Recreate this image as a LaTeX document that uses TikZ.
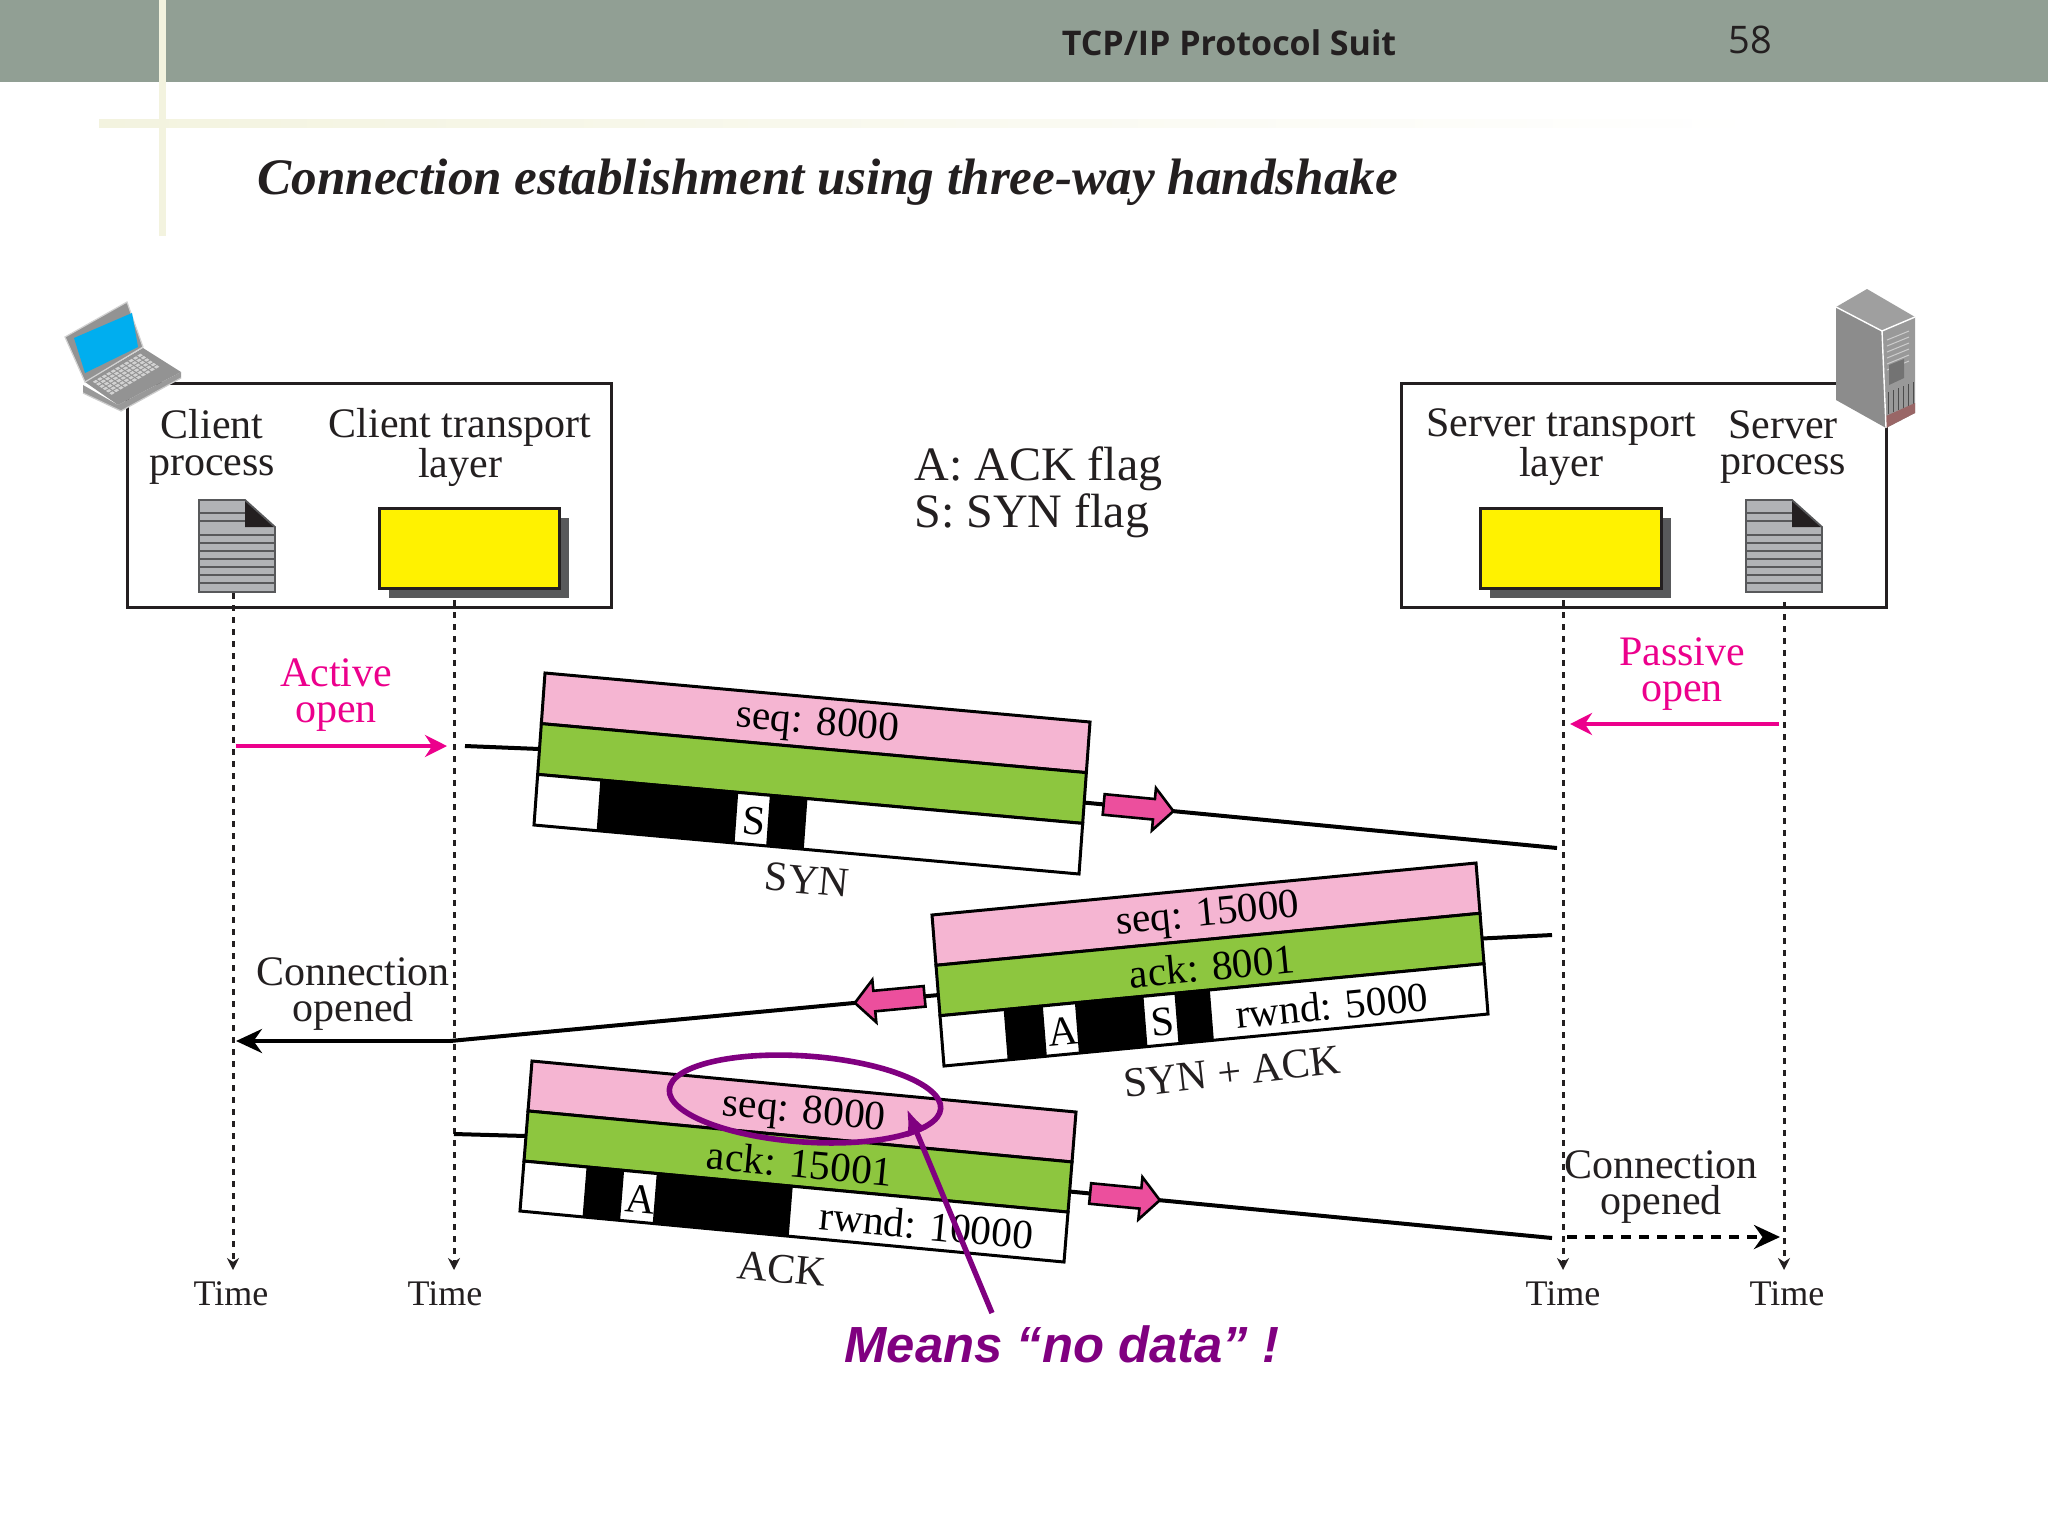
\documentclass[tikz,border=0pt]{standalone}
\usepackage{fontspec}
\setmainfont{Liberation Serif}
\newfontfamily\headfont{Open Sans}
\newfontfamily\notefont{Liberation Sans}
\usetikzlibrary{arrows.meta,shapes.arrows,shapes.geometric,shadows}
\definecolor{headbar}{HTML}{919F94}
\definecolor{creamline}{HTML}{F3F3DF}
\definecolor{inktext}{HTML}{231F20}
\definecolor{seqpink}{HTML}{F5B5D2}
\definecolor{ackgreen}{HTML}{8DC63F}
\definecolor{layeryellow}{HTML}{FFF200}
\definecolor{shadowgray}{HTML}{58595B}
\definecolor{openpink}{HTML}{EC008C}
\definecolor{flowpink}{HTML}{EC4F9D}
\definecolor{notepurple}{HTML}{800080}
\definecolor{docgray}{HTML}{B1B3B6}
\definecolor{screenblue}{HTML}{00AEEF}
% a box in the slanted axes of a packet
\newcommand{\skewbox}[4]{(#1,#2) -- (#3,#2) -- (#3,#4) -- (#1,#4) -- cycle}
\tikzset{
  label21/.style={text=inktext,align=center,font=\fontsize{21}{18.2}\selectfont,inner sep=0pt,yshift=-2pt},
  timelabel/.style={text=inktext,font=\fontsize{18}{20}\selectfont,inner sep=0pt},
  bandtext/.style={text=black,font=\fontsize{20.7}{22}\selectfont,inner sep=0pt,xshift=1pt,yshift=-1pt},
  bandline/.style={draw=black,line width=1.5pt},
  framebox/.style={draw=inktext,line width=1.5pt,minimum height=112pt,inner sep=0pt},
  layerbox/.style={draw=inktext,fill=layeryellow,line width=1.5pt,minimum height=40pt,inner sep=0pt,
    general shadow={fill=shadowgray,shadow xshift=5pt,shadow yshift=-5pt}},
  lifeline/.style={draw=inktext,line width=1.5pt,dash pattern=on 3.2pt off 2.8pt,-{Stealth[length=6pt,width=6pt]}},
  msgline/.style={draw=black,line width=2pt},
  openarrow/.style={draw=openpink,line width=2pt,-{Stealth[length=11pt,width=11pt]}},
  flowarrow/.style={single arrow,draw=black,fill=flowpink,line width=1.3pt,minimum height=35pt,minimum width=21pt,
    single arrow head extend=5.5pt,inner sep=4.5pt,single arrow tip angle=95,sloped,allow upside down},
  docicon/.pic={
    \fill[docgray] (0,0) -- (46,0) -- (76,27) -- (76,92) -- (0,92) -- cycle;
    \foreach \yy in {13,21} \draw[shadowgray,line width=.8pt] (0,\yy) -- (46,\yy);
    \foreach \yy in {35,43,...,83} \draw[shadowgray,line width=.8pt] (0,\yy) -- (76,\yy);
    \fill[inktext] (46,0) -- (76,27) -- (46,27) -- cycle;
    \draw[shadowgray,line width=.9pt] (0,0) -- (46,0) -- (76,27) -- (76,92) -- (0,92) -- cycle;
  }
}
\begin{document}
\begin{tikzpicture}[x=.5pt,y=-.5pt]
\useasboundingbox (0,0) rectangle (2048,1536);
% slide furniture
\fill[headbar] (0,0) rectangle (2048,82);
\fill[left color=creamline,middle color=creamline,right color=white] (99,119) rectangle (1760,127);
\fill[creamline] (159,0) rectangle (166,236);
\node[text=inktext,font=\headfont\bfseries\fontsize{17}{18}\selectfont,inner sep=0pt] (slidefoot) at (1229,43) {TCP/IP Protocol Suit};
\node[text=inktext,font=\headfont\fontsize{19}{20}\selectfont,inner sep=0pt] (slidenum) at (1750,40) {58};
\node[anchor=west,text=inktext,font=\bfseries\itshape\fontsize{25.6}{27}\selectfont,inner sep=0pt] (slidetitle) at (257,182) {Connection establishment using three-way handshake};

% host frames
\node[framebox,minimum width=242pt] (clientframe) at (369,495) {};
\node[framebox,minimum width=242.5pt] (serverframe) at (1643.5,495) {};
\node[label21] (clientproc) at (212,443) {Client\\process};
\node[label21] (clienttrans) at (460,443) {Client transport\\layer};
\node[label21] (servertrans) at (1561,443) {Server transport\\layer};
\node[label21] (serverproc) at (1783,443) {Server\\process};
\node[layerbox,minimum width=90pt] (clientlayer) at (469,548) {};
\node[layerbox,minimum width=90.5pt] (serverlayer) at (1570.5,548) {};
\pic at (199,500) {docicon};
\pic at (1746,500) {docicon};

% laptop
\fill[gray!80] (83,385) -- (83,393) -- (121,411) -- (181,378) -- (181,372) -- (118,405) -- cycle;
\draw[gray!40,line width=.6pt] (83,393) -- (121,411) -- (181,378);
\fill[gray!85] (85,382) -- (143,348) -- (181,372) -- (118,405) -- cycle;
\begin{scope}[shift={(85,382)},x={(29pt,17pt)},y={(16.5pt,-11.5pt)}]
\foreach \i in {1,...,11}
  \foreach \j in {1,...,6}
    \fill[gray!35] \skewbox{\i/13}{\j/10}{\i/13+.055}{\j/10+.07};
\end{scope}
\fill[gray!85] (65,337) -- (127,302) -- (143,347) -- (85,382) -- cycle;
\draw[gray!35,line width=.6pt] (65,337) -- (127,302) -- (143,347) -- (85,382) -- cycle;
\fill[screenblue] (74,338) -- (132,313) -- (138,347) -- (85,373) -- cycle;

% server tower
\fill[gray!75] (1867,289) -- (1915,317) -- (1882,331) -- (1836,307) -- cycle;
\fill[gray!90] (1836,307) -- (1882,331) -- (1886,428) -- (1836,400) -- cycle;
\fill[gray!80] (1882,331) -- (1915,317) -- (1915,413) -- (1886,428) -- cycle;
\foreach \yy in {0,6,...,30}
  \draw[gray!40,line width=.5pt] (1887,340+\yy) -- (1909,331+\yy);
\fill[black!55] (1889,365) -- (1904,359) -- (1904,378) -- (1889,385) -- cycle;
\foreach \xx in {0,5,...,25}
  \draw[black!70,line width=.5pt] (1888+\xx,392-.4*\xx) -- (1888+\xx,414-.4*\xx);
\fill[red!20!gray] (1886,416) -- (1915,403) -- (1915,413) -- (1886,428) -- cycle;
\draw[white,line width=.7pt] (1836,307) -- (1882,331) -- (1915,317);
\draw[white,line width=.7pt] (1882,331) -- (1886,428);

% the note on flags
\node[anchor=west,align=left,text=inktext,font=\fontsize{24}{23.5}\selectfont,inner sep=0pt] (flagkey) at (914,492) {A: ACK flag\\S: SYN flag};

% time lines
\coordinate (clientproctop) at (233,593);
\coordinate (clienttranstop) at (454,600);
\coordinate (servertranstop) at (1563,600);
\coordinate (serverproctop) at (1784,602);
\node[timelabel] (clientproctime) at (231,1294) {Time};
\node[timelabel] (clienttranstime) at (445,1294) {Time};
\node[timelabel] (servertranstime) at (1563,1294) {Time};
\node[timelabel] (serverproctime) at (1787,1294) {Time};
\draw[lifeline] (clientproctop) -- (233,1270);
\draw[lifeline] (clienttranstop) -- (454,1270);
\draw[lifeline] (servertranstop) -- (1563,1270);
\draw[lifeline] (serverproctop) -- (1784,1270);

% opens
\node[label21,text=openpink] (activeopen) at (336,691) {Active\\open};
\node[label21,text=openpink] (passiveopen) at (1682,670) {Passive\\open};
\coordinate (activefrom) at (236,746);
\coordinate (activeto) at (447,746);
\coordinate (passivefrom) at (1779,724);
\coordinate (passiveto) at (1570,724);
\draw[openarrow] (activefrom) -- (activeto);
\draw[openarrow] (passivefrom) -- (passiveto);

% SYN packet
\coordinate (synstart) at (465,746);
\coordinate (synend) at (1557,848);
\begin{scope}[shift={(545,673)},x={(272.5pt,-24.5pt)},y={(-5.5pt,-76pt)}]
\coordinate (synwest) at (0,.5);
\coordinate (syneast) at (1,.53);
\draw[msgline] (synstart) -- (synwest);
\filldraw[bandline,fill=seqpink] \skewbox{0}{0}{1}{.333};
\filldraw[bandline,fill=ackgreen] \skewbox{0}{.333}{1}{.667};
\filldraw[bandline,fill=white] \skewbox{0}{.667}{1}{1};
\fill[black] \skewbox{.115}{.667}{.368}{1};
\fill[black] \skewbox{.426}{.667}{.495}{1};
\node[bandtext,rotate=-5.1] (synseq) at (.5,.167) {seq: 8000};
\node[bandtext,rotate=-5.1] (synflag) at (.397,.833) {S};
\end{scope}
\node[label21,rotate=-5.1] (synname) at (807,876) {SYN};
\draw[msgline] (syneast) -- node[flowarrow,pos=.105] (synflow) {} (synend);

% SYN + ACK packet
\coordinate (synackstart) at (1552,935);
\coordinate (synackbend) at (450,1041);
\coordinate (synackend) at (236,1041);
\begin{scope}[shift={(932,915)},x={(272pt,26pt)},y={(6pt,-75.5pt)}]
\coordinate (synackwest) at (0,.53);
\coordinate (synackeast) at (1,.5);
\draw[msgline] (synackstart) -- (synackeast);
\filldraw[bandline,fill=seqpink] \skewbox{0}{0}{1}{.333};
\filldraw[bandline,fill=ackgreen] \skewbox{0}{.333}{1}{.667};
\filldraw[bandline,fill=white] \skewbox{0}{.667}{1}{1};
\fill[black] \skewbox{.117}{.667}{.189}{1};
\fill[black] \skewbox{.248}{.667}{.374}{1};
\fill[black] \skewbox{.431}{.667}{.496}{1};
\node[bandtext,rotate=5.5] (synackseq) at (.5,.167) {seq: 15000};
\node[bandtext,rotate=5.5] (synackack) at (.5,.5) {ack: 8001};
\node[bandtext,rotate=5.5] (synackflaga) at (.218,.833) {A};
\node[bandtext,rotate=5.5] (synackflags) at (.402,.833) {S};
\node[bandtext,rotate=5.5] (synackrwnd) at (.713,.833) {rwnd: 5000};
\end{scope}
\node[label21,rotate=6.5] (synackname) at (1232,1068) {SYN + ACK};
\node[label21] (clientopened) at (353,990) {Connection\\opened};
\draw[msgline] (synackwest) -- node[flowarrow,pos=.09] (synackflow) {} (synackbend);
\draw[msgline,-{Stealth[length=13pt,width=12pt]}] (synackbend) -- (synackend);

% ACK packet
\coordinate (ackstart) at (454,1134);
\coordinate (ackend) at (1552,1238);
\begin{scope}[shift={(532,1061)},x={(272pt,-25.5pt)},y={(-6pt,-75pt)}]
\coordinate (ackwest) at (0,.5);
\coordinate (ackeast) at (1,.53);
\draw[msgline] (ackstart) -- (ackwest);
\filldraw[bandline,fill=seqpink] \skewbox{0}{0}{1}{.333};
\filldraw[bandline,fill=ackgreen] \skewbox{0}{.333}{1}{.667};
\filldraw[bandline,fill=white] \skewbox{0}{.667}{1}{1};
\fill[black] \skewbox{.115}{.667}{.184}{1};
\fill[black] \skewbox{.244}{.667}{.494}{1};
\node[bandtext,rotate=-5.4] (ackseq) at (.5,.167) {seq: 8000};
\node[bandtext,rotate=-5.4] (ackack) at (.5,.5) {ack: 15001};
\node[bandtext,rotate=-5.4] (ackflag) at (.214,.833) {A};
\node[bandtext,rotate=-5.4] (ackrwnd) at (.74,.833) {rwnd: 10000};
\end{scope}
\node[label21,rotate=-5.4] (ackname) at (782,1265) {ACK};
\draw[msgline] (ackeast) -- node[flowarrow,pos=.105] (ackflow) {} (ackend);
\node[label21] (serveropened) at (1661,1183) {Connection\\opened};
\coordinate (serveropenfrom) at (1567,1237);
\coordinate (serveropento) at (1780,1237);
\draw[msgline,dash pattern=on 5pt off 4pt,-{Stealth[length=13pt,width=12pt]}] (serveropenfrom) -- (serveropento);

% no data note
\node[ellipse,draw=notepurple,line width=2.8pt,minimum width=136pt,minimum height=43pt,inner sep=0pt,rotate=-4] (nodataoval) at (805,1099) {};
\node[text=notepurple,font=\notefont\bfseries\itshape\fontsize{25.4}{27}\selectfont,inner sep=0pt] (nodatanote) at (1062,1344) {Means “no data” !};
\coordinate (nodatafrom) at (992,1313);
\coordinate (nodatatip) at (907,1109);
\draw[notepurple,line width=2.7pt,-{Latex[length=13pt,width=11pt]}] (nodatafrom) -- (nodatatip);
\end{tikzpicture}
\end{document}
